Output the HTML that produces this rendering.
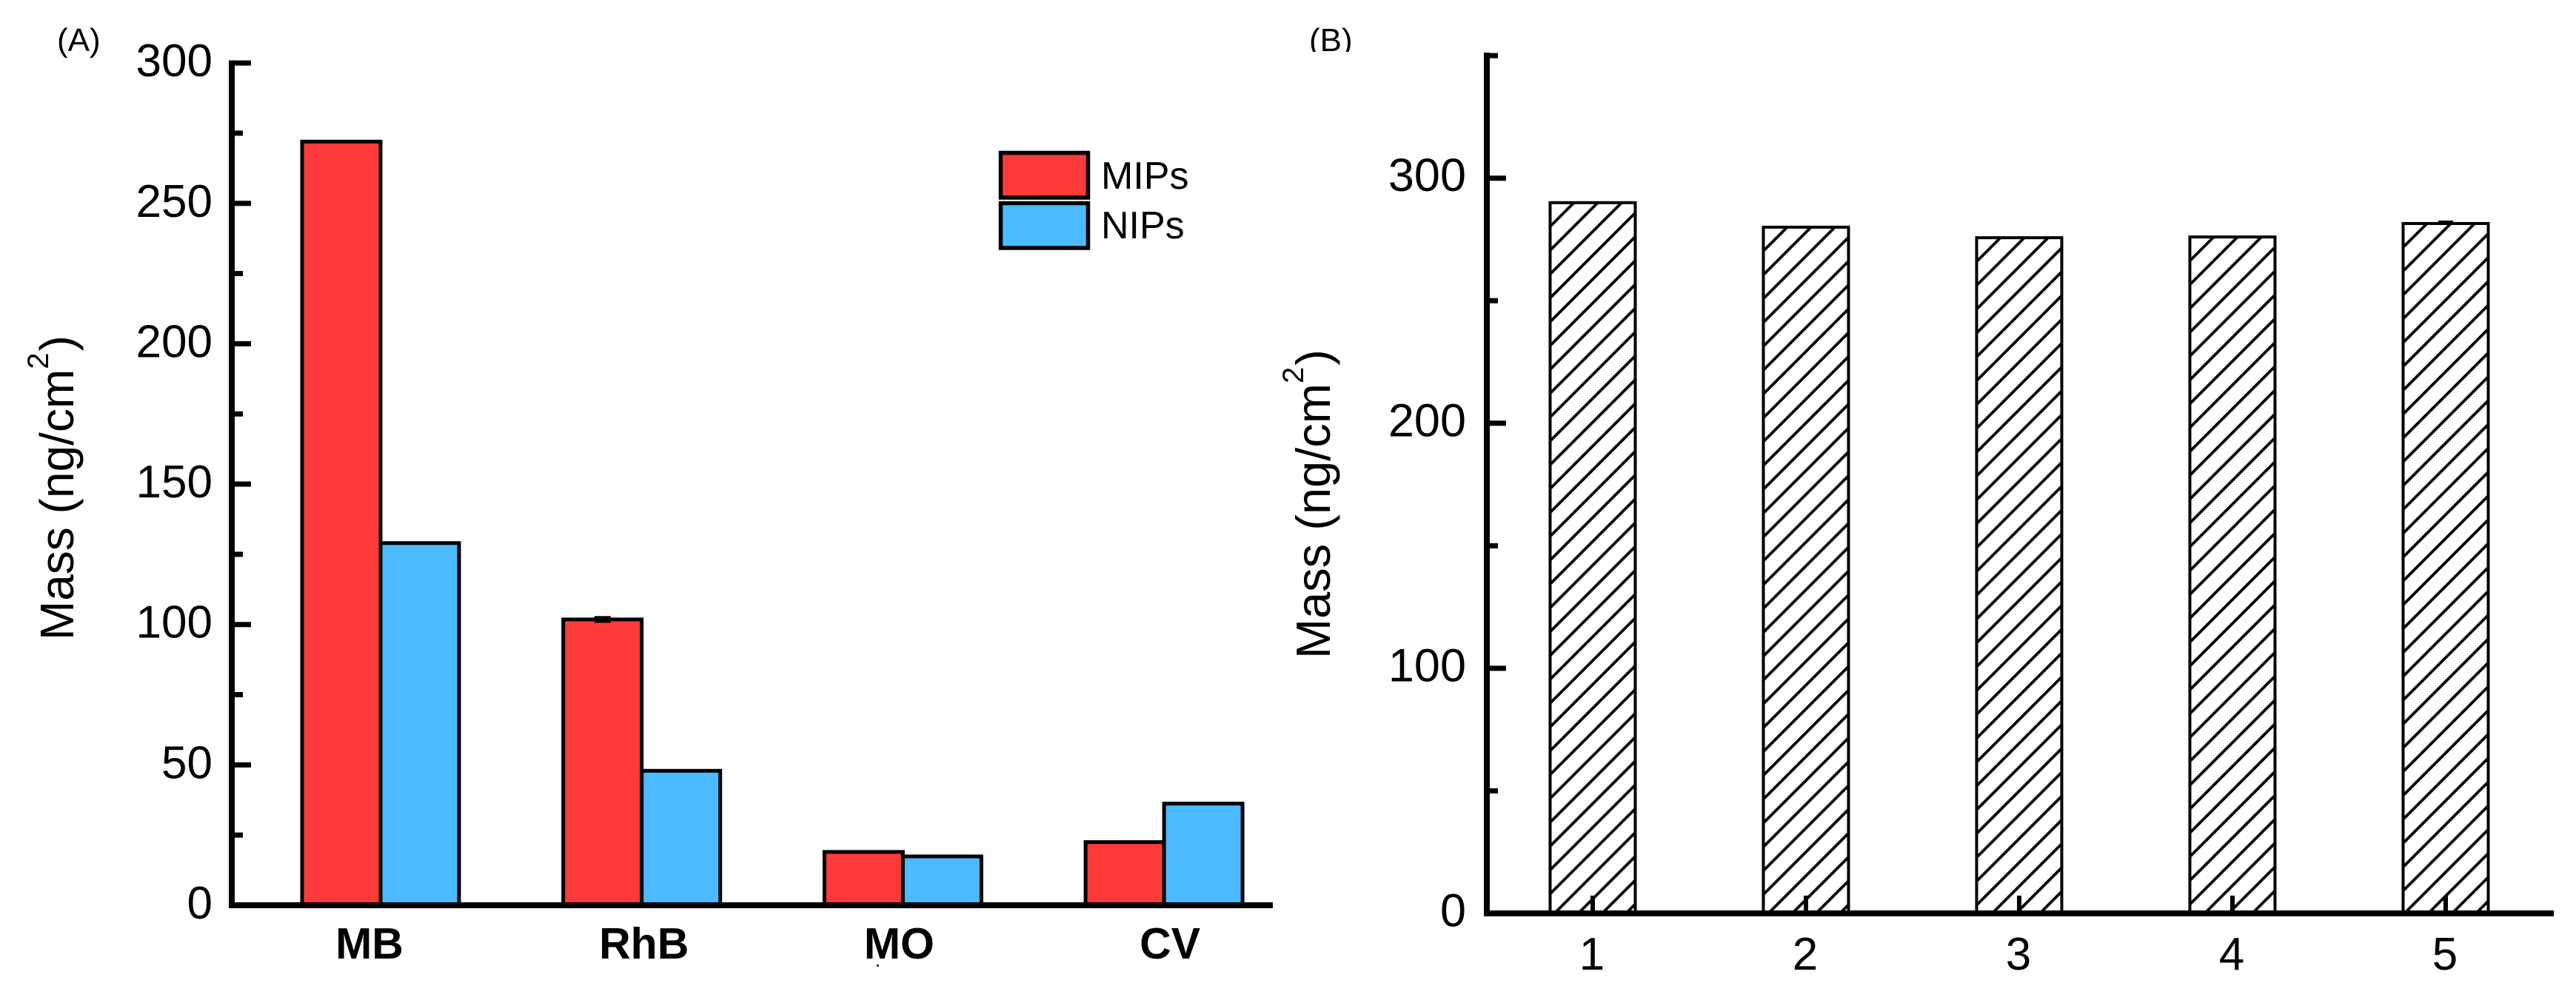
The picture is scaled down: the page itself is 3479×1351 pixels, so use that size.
<!DOCTYPE html>
<html lang="en">
<head>
<meta charset="utf-8">
<title>Mass comparison bar charts</title>
<style>
  html, body { margin: 0; padding: 0; background: #fff; }
  svg { display: block; }
  text { font-family: "Liberation Sans", Arial, sans-serif; fill: #000; }
</style>
</head>
<body>
<svg id="figure" xmlns="http://www.w3.org/2000/svg" width="3479" height="1351" viewBox="0 0 3479 1351">
  <defs id="defs">
    <clipPath id="clip-b-label"><rect x="1750" y="20" width="100" height="50"/></clipPath>
  </defs>
  <rect x="0" y="0" width="3479" height="1351" fill="#fff"/>

  <g id="panel-a">
    <text x="77" y="69" font-size="44">(A)</text>
    <text transform="translate(99,865) rotate(-90)" font-size="64">Mass (ng/cm<tspan font-size="40" dy="-34">2</tspan><tspan dy="34" dx="2">)</tspan></text>
    <g id="bars-a"></g>
    <g id="axes-a"></g>
    <g>
      <rect x="1351.5" y="206.5" width="118" height="60.5" fill="#FF3A3A" stroke="#000" stroke-width="5.5"/>
      <text x="1487" y="255" font-size="52">MIPs</text>
      <rect x="1351.5" y="274.5" width="118" height="60.5" fill="#4BBAFF" stroke="#000" stroke-width="5.5"/>
      <text x="1487" y="322" font-size="52">NIPs</text>
    </g>
    <rect x="1184" y="1303" width="3" height="3" fill="#5a1a1a"/>
  </g>

  <g id="panel-b">
    <text x="1768" y="69" font-size="44" clip-path="url(#clip-b-label)">(B)</text>
    <text transform="translate(1796,890) rotate(-90)" font-size="65">Mass (ng/cm<tspan font-size="40" dy="-36">2</tspan><tspan dy="36" dx="2">)</tspan></text>
    <g id="bars-b"></g>
    <g id="axes-b"></g>
  </g>
</svg>

<script>
// ---- Panel A data ----
const categoriesA = ['MB', 'RhB', 'MO', 'CV'];
const mipsValues = [272, 101.8, 19, 22.5];
const nipsValues = [129, 47.9, 17.4, 36.2];
const mipsErrors = [0, 1.2, 0, 0];
const majorTicksA = [0, 50, 100, 150, 200, 250, 300];
const minorTicksA = [25, 75, 125, 175, 225, 275];

// ---- Panel B data ----
const categoriesB = ['1', '2', '3', '4', '5'];
const massValuesB = [290, 280, 275.7, 276, 281.5];
const massErrorsB = [0, 0, 0, 0, 0.6];
const majorTicksB = [0, 100, 200, 300];
const minorTicksB = [50, 150, 250, 350];

// ---- Axis functions ----
function yA(v) { return 1223 - v * 3.793; }
function groupA(i) { return 514 + i * 352.7; }
function yB(v) { return 1234 - v * 3.311; }
function centerB(i) { return 2151 + i * 288; }

const SVGNS = 'http://www.w3.org/2000/svg';
function make(parent, tag, attrs, content) {
  const el = document.createElementNS(SVGNS, tag);
  for (const k in attrs) el.setAttribute(k, attrs[k]);
  if (content !== undefined) el.textContent = content;
  parent.appendChild(el);
  return el;
}

const barsA = document.getElementById('bars-a');
const axesA = document.getElementById('axes-a');
const barsB = document.getElementById('bars-b');
const axesB = document.getElementById('axes-b');
const defs = document.getElementById('defs');

// ---- Panel A bars ----
const BAR_W_A = 106;
const labelShiftA = [-15, 3, -5, 8];
categoriesA.forEach(function (cat, i) {
  const mid = groupA(i);
  const red = make(barsA, 'rect', {
    x: mid - BAR_W_A, y: yA(mipsValues[i]), width: BAR_W_A, height: yA(0) - yA(mipsValues[i]),
    fill: '#FF3A3A', stroke: '#000', 'stroke-width': 5
  });
  
  

  const blue = make(barsA, 'rect', {
    x: mid, y: yA(nipsValues[i]), width: BAR_W_A, height: yA(0) - yA(nipsValues[i]),
    fill: '#4BBAFF', stroke: '#000', 'stroke-width': 5
  });
  
  

  if (mipsErrors[i] > 0) {
    const err = make(barsA, 'rect', {
      x: mid - BAR_W_A / 2 - 11, y: yA(mipsValues[i] + mipsErrors[i]),
      width: 22, height: yA(0) - yA(2 * mipsErrors[i]), fill: '#000'
    });
    
    
  }

  const lab = make(axesA, 'text', {
    x: mid + labelShiftA[i], y: 1295, 'font-size': 59, 'font-weight': 'bold', 'text-anchor': 'middle'
  }, cat);
  
  
});

// ---- Panel A axes ----
const yLineA = make(axesA, 'line', { x1: 313, x2: 313, y1: yA(300) - 3.5, y2: yA(0) + 4, stroke: '#000', 'stroke-width': 8 });



const xLineA = make(axesA, 'line', { x1: 309, x2: 1719, y1: yA(0), y2: yA(0), stroke: '#000', 'stroke-width': 8 });



majorTicksA.forEach(function (v) {
  const t = make(axesA, 'line', { x1: 313, x2: 339, y1: yA(v), y2: yA(v), stroke: '#000', 'stroke-width': 7 });
  
  
  const lab = make(axesA, 'text', { x: 287, y: yA(v) + 18, 'font-size': 62, 'text-anchor': 'end' }, String(v));
  
  
});
minorTicksA.forEach(function (v) {
  const t = make(axesA, 'line', { x1: 313, x2: 328, y1: yA(v), y2: yA(v), stroke: '#000', 'stroke-width': 7 });
  
  
});

// ---- Panel B bars ----
const BAR_W_B = 115;
categoriesB.forEach(function (cat, i) {
  const left = centerB(i) - BAR_W_B / 2;
  const top = yB(massValuesB[i]);

  const pat = make(defs, 'pattern', {
    id: 'hatch-' + i, patternUnits: 'userSpaceOnUse', width: 32.2, height: 32.2,
    patternTransform: 'translate(' + left + ' ' + top + ')'
  });
  make(pat, 'path', { d: 'M-4 36.2L36.2 -4M-4 4L4 -4M28.2 36.2L36.2 28.2', stroke: '#000', 'stroke-width': 3.8, fill: 'none' });

  const bar = make(barsB, 'rect', {
    x: left, y: top, width: BAR_W_B, height: yB(0) - top,
    fill: 'url(#hatch-' + i + ')', stroke: '#000', 'stroke-width': 4
  });
  
  

  if (massErrorsB[i] > 0) {
    const err = make(barsB, 'rect', {
      x: centerB(i) - 10, y: yB(massValuesB[i] + massErrorsB[i]) - 2,
      width: 20, height: yB(0) - yB(2 * massErrorsB[i]) + 2, fill: '#000'
    });
    
    
  }

  const tick = make(axesB, 'line', { x1: centerB(i), x2: centerB(i), y1: yB(0), y2: yB(0) - 24, stroke: '#000', 'stroke-width': 6 });
  
  

  const lab = make(axesB, 'text', { x: centerB(i) - 1, y: 1310, 'font-size': 62, 'text-anchor': 'middle' }, cat);
  
  
});

// ---- Panel B axes ----
const yLineB = make(axesB, 'line', { x1: 2008, x2: 2008, y1: yB(350) - 4, y2: yB(0) + 4, stroke: '#000', 'stroke-width': 8 });



const xLineB = make(axesB, 'line', { x1: 2004, x2: 3449, y1: yB(0), y2: yB(0), stroke: '#000', 'stroke-width': 8 });



majorTicksB.forEach(function (v) {
  const t = make(axesB, 'line', { x1: 2008, x2: 2034, y1: yB(v), y2: yB(v), stroke: '#000', 'stroke-width': 7 });
  
  
  const lab = make(axesB, 'text', { x: 1980, y: yB(v) + 17.5, 'font-size': 63, 'text-anchor': 'end' }, String(v));
  
  
});
minorTicksB.forEach(function (v) {
  const t = make(axesB, 'line', { x1: 2008, x2: 2023, y1: yB(v), y2: yB(v), stroke: '#000', 'stroke-width': 7 });
  
  
});
</script>
</body>
</html>
